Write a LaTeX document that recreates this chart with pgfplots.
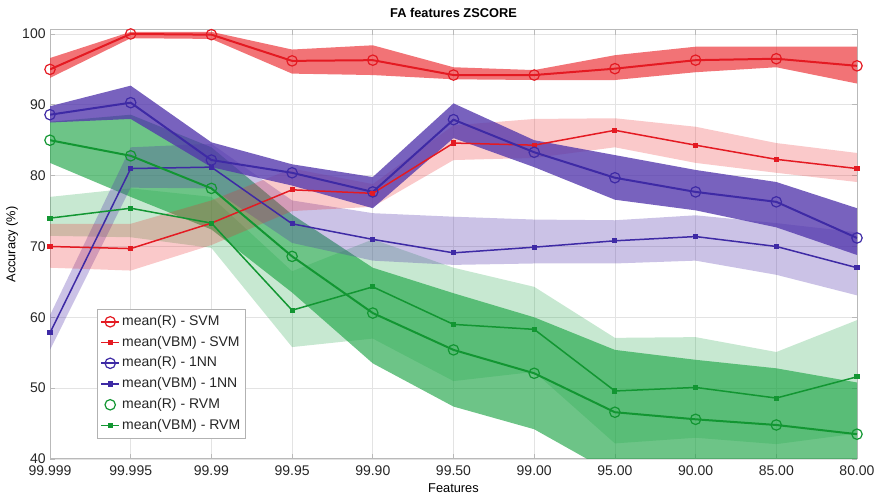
\documentclass[border=0pt]{standalone}
\usepackage{fontspec}
\setmainfont{Liberation Sans}
\usepackage{pgfplots}
\pgfplotsset{compat=1.18}
\usepackage{pgfplotstable}
\usepgfplotslibrary{fillbetween}

\definecolor{cR}{RGB}{228,26,34}
\definecolor{cRb}{RGB}{235,40,45}
\definecolor{cB}{RGB}{62,42,165}
\definecolor{cBb}{RGB}{82,54,172}
\definecolor{cG}{RGB}{18,150,50}
\definecolor{cGb}{RGB}{30,165,70}

\pgfplotsset{
  shortline legend/.style={legend image code/.code={\draw[mark repeat=2,mark phase=2,##1] plot coordinates {(0pt,0pt) (4.5pt,0pt) (9pt,0pt)};}},
  markonly legend/.style={legend image code/.code={\draw[##1] plot[only marks] coordinates {(4.5pt,0pt)};}},
}

% x mean lo hi
\pgfplotstableread{
x mean lo hi
0 95.0 93.8 96.6
1 100.0 99.4 100.3
2 99.9 99.3 100.3
3 96.2 94.4 97.8
4 96.3 94.2 98.4
5 94.2 93.6 95.3
6 94.2 93.5 94.9
7 95.1 93.5 97.0
8 96.3 94.6 98.2
9 96.5 95.3 98.2
10 95.5 93.0 98.2
}\rsvm
\pgfplotstableread{
x mean lo hi
0 70.0 67.0 73.2
1 69.7 66.6 73.2
2 73.3 70.2 76.5
3 78.0 75.0 81.0
4 77.5 75.6 78.8
5 84.6 82.2 87.1
6 84.3 82.5 88.0
7 86.4 84.0 88.1
8 84.3 81.8 86.9
9 82.3 80.4 84.6
10 81.0 79.1 83.2
}\vsvm
\pgfplotstableread{
x mean lo hi
0 88.6 87.5 89.8
1 90.3 88.0 92.7
2 82.2 81.2 84.7
3 80.4 78.6 81.6
4 77.7 75.4 79.8
5 87.9 85.3 90.2
6 83.3 81.2 85.0
7 79.7 76.6 82.9
8 77.7 75.1 80.8
9 76.3 72.7 79.1
10 71.2 68.8 75.4
}\rnn
\pgfplotstableread{
x mean lo hi
0 57.8 55.4 60.3
1 81.0 78.3 84.0
2 81.2 78.2 84.5
3 73.2 70.5 76.5
4 71.0 68.0 74.7
5 69.1 67.4 74.2
6 69.9 67.6 73.8
7 70.8 67.6 73.7
8 71.4 68.0 74.4
9 70.0 66.0 73.3
10 67.0 63.1 72.0
}\vnn
\pgfplotstableread{
x mean lo hi
0 85.0 81.8 87.6
1 82.8 77.0 88.6
2 78.2 72.4 84.0
3 68.6 63.5 74.5
4 60.6 53.5 67.0
5 55.4 47.4 63.4
6 52.1 44.2 60.0
7 46.6 37.8 55.4
8 45.6 37.2 54.0
9 44.8 36.8 52.8
10 43.5 36.2 50.8
}\rrvm
\pgfplotstableread{
x mean lo hi
0 74.0 71.5 77.0
1 75.4 71.3 78.2
2 73.3 69.8 77.0
3 61.0 55.8 66.5
4 64.3 57.0 71.0
5 59.0 51.0 67.0
6 58.3 52.3 64.3
7 49.6 42.2 57.1
8 50.1 43.0 57.2
9 48.6 42.1 55.1
10 51.6 43.6 59.6
}\vrvm

\newcommand{\band}[4]{% table, name, color, opacity
  \addplot[name path=#2hi, draw=none, forget plot] table[x=x,y=hi]{#1};
  \addplot[name path=#2lo, draw=none, forget plot] table[x=x,y=lo]{#1};
  \addplot[fill=#3, fill opacity=#4, draw=none, forget plot] fill between[of=#2hi and #2lo];
}

\begin{document}
\begin{tikzpicture}
\begin{axis}[
  name=ax,
  scale only axis,
  width=403.5pt, height=214.5pt,
  xmin=0, xmax=10, ymin=40, ymax=100.56,
  xtick={0,...,10},
  xticklabels={99.999,99.995,99.99,99.95,99.90,99.50,99.00,95.00,90.00,85.00,80.00},
  ytick={40,50,...,100},
  /pgf/number format/assume math mode=true,
  tick label style={font=\fontsize{7}{8}\selectfont, text=black!85},
  xticklabel style={inner sep=0pt, yshift=-3pt},
  yticklabel style={inner sep=0pt, xshift=-2pt},
  grid=major,
  major grid style={gray!22, line width=0.4pt},
  axis line style={gray!55, line width=0.5pt},
  tick style={gray!55, line width=0.4pt},
  major tick length=2.5pt,
  tick align=inside,
  title={FA features ZSCORE},
  title style={at={(0.5,1)}, anchor=south, inner sep=0pt, font=\bfseries\fontsize{6.4}{7}\selectfont},
  xlabel={Features},
  xlabel style={at={(axis description cs:0.5,0)}, anchor=north, inner sep=0pt, yshift=-12pt, font=\fontsize{6.4}{7}\selectfont},
  ylabel={Accuracy (\%)},
  ylabel style={at={(axis description cs:-0.039,0.5)}, anchor=south, inner sep=0pt, font=\fontsize{6.4}{7}\selectfont},
  legend style={at={(0.058,0.35)}, anchor=north west, draw=gray!60, fill=white, line width=0.4pt,
    font=\fontsize{7}{8}\selectfont, row sep=0.8pt, inner xsep=1.5pt, inner ysep=1.5pt, text=black!85,
    nodes={inner xsep=1pt, inner ysep=1.5pt}},
  legend cell align=left,
  shortline legend,
]
% bands
\band{\vrvm}{vrvm}{cGb}{0.25}
\band{\rrvm}{rrvm}{cGb}{0.65}
\band{\vnn}{vnn}{cBb}{0.30}
\band{\vsvm}{vsvm}{cRb}{0.25}
\band{\rnn}{rnn}{cBb}{0.78}
\band{\rsvm}{rsvm}{cRb}{0.65}

% lines
\addplot[cR, line width=1pt, mark=o, mark size=2.6pt, mark options={line width=0.6pt}] table[x=x,y=mean]{\rsvm};
\addlegendentry{mean(R) - SVM}
\addplot[cR, line width=0.75pt, mark=square*, mark size=0.9pt] table[x=x,y=mean]{\vsvm};
\addlegendentry{mean(VBM) - SVM}
\addplot[cB, line width=1pt, mark=o, mark size=2.6pt, mark options={line width=0.6pt}] table[x=x,y=mean]{\rnn};
\addlegendentry{mean(R) - 1NN}
\addplot[cB, line width=0.75pt, mark=square*, mark size=0.9pt] table[x=x,y=mean]{\vnn};
\addlegendentry{mean(VBM) - 1NN}
\addplot[cG, line width=1pt, mark=o, mark size=2.6pt, mark options={line width=0.6pt}, markonly legend] table[x=x,y=mean]{\rrvm};
\addlegendentry{mean(R) - RVM}
\addplot[cG, line width=0.75pt, mark=square*, mark size=0.9pt] table[x=x,y=mean]{\vrvm};
\addlegendentry{mean(VBM) - RVM}
\end{axis}
\pgfresetboundingbox
\path[use as bounding box] ([xshift=-25pt,yshift=-20.5pt]ax.south west) rectangle ([xshift=11pt,yshift=15pt]ax.north east);
\end{tikzpicture}
\end{document}
